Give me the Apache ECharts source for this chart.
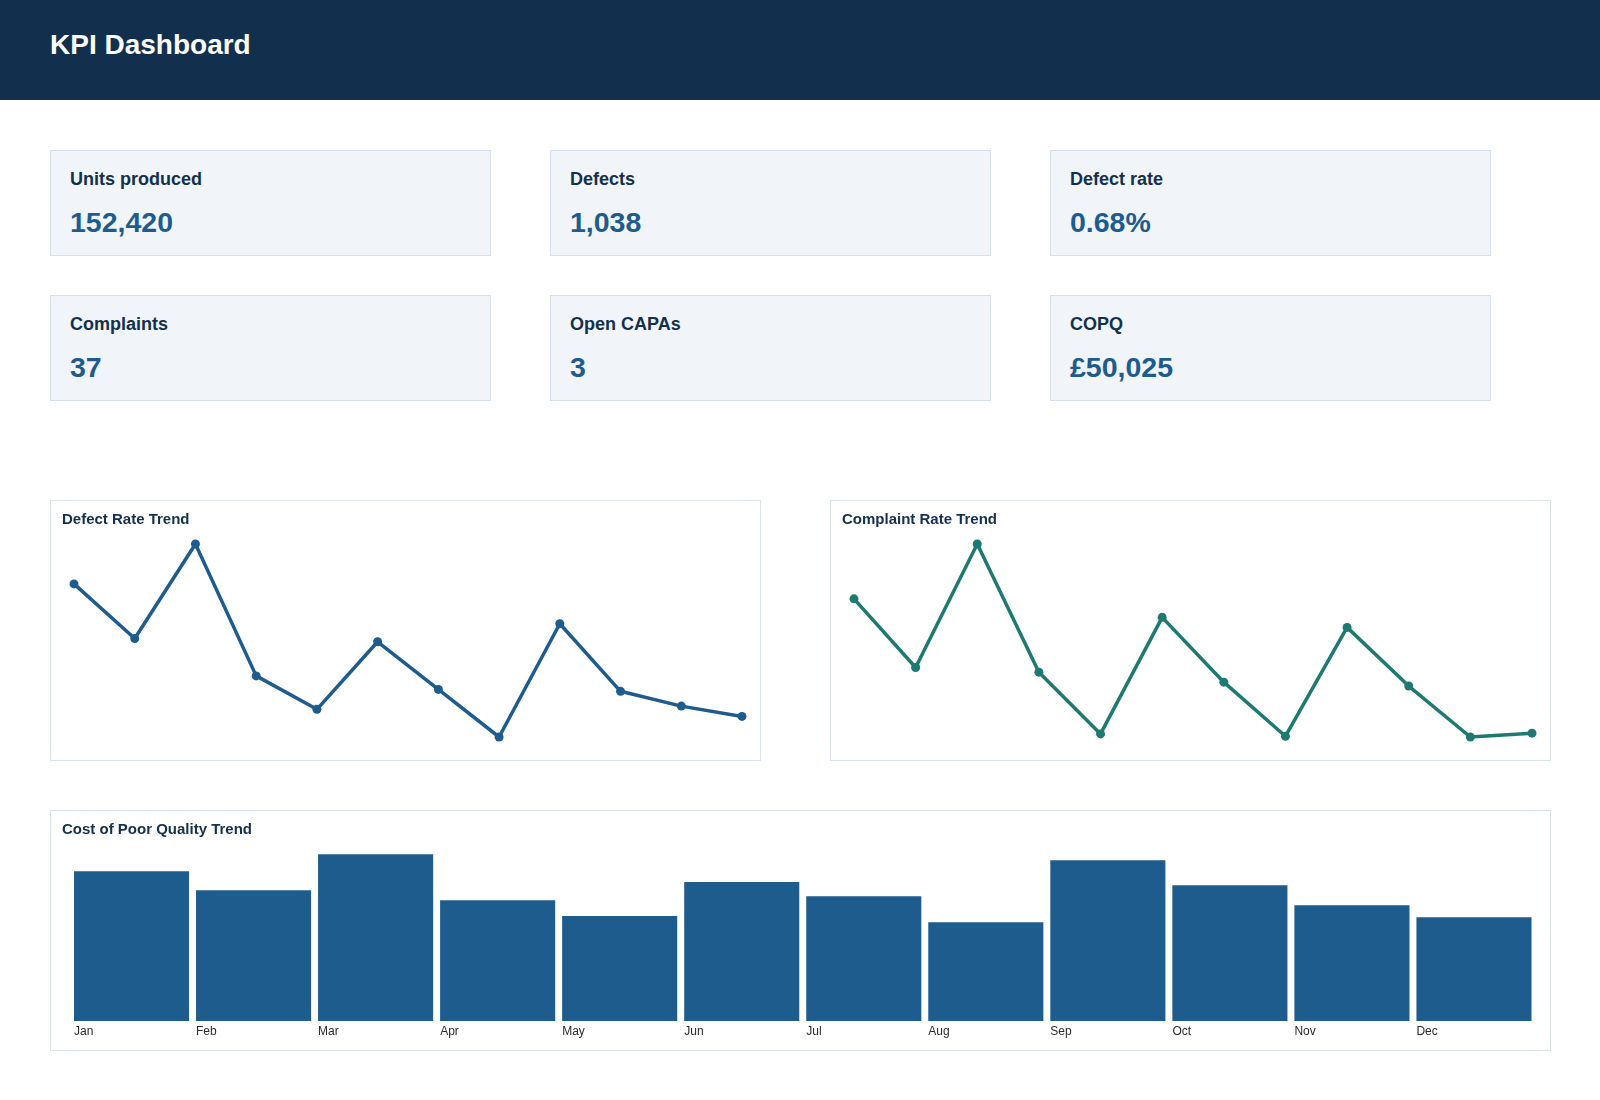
<!DOCTYPE html>
<html>
<head>
<meta charset="utf-8">
<title>KPI Dashboard</title>
<script src="https://cdn.jsdelivr.net/npm/echarts@6/dist/echarts.min.js"></script>
<style>
  html, body { margin: 0; padding: 0; background: #ffffff; }
  body { width: 1600px; height: 1100px; position: relative; font-family: "Liberation Sans", Arial, sans-serif; }
  .header { position: absolute; left: 0; top: 0; width: 1600px; height: 100px; background: #12304d; }
  .header h1 { position: absolute; left: 50px; top: 29px; margin: 0; font-size: 28px; line-height: 32px; font-weight: bold; color: #ffffff; }
  .card { position: absolute; box-sizing: border-box; width: 441px; height: 106px; background: #f1f5f9; border: 1px solid #d6e0ea; }
  .card .label { position: absolute; left: 19px; top: 18px; font-size: 18px; line-height: 20px; font-weight: bold; color: #13304d; white-space: nowrap; }
  .card .value { position: absolute; left: 19px; top: 55px; font-size: 28.5px; line-height: 32px; font-weight: bold; color: #1f5c8e; white-space: nowrap; }
  .panel { position: absolute; box-sizing: border-box; border: 1px solid #dbe4ee; background: #ffffff; }
  .panel .chart { width: 100%; height: 100%; }
</style>
</head>
<body>
<div class="header"><h1>KPI Dashboard</h1></div>
<div id="cards"></div>

<div class="panel" style="left:50px; top:500px; width:711px; height:261px;"><div class="chart" id="defectChart"></div></div>
<div class="panel" style="left:830px; top:500px; width:721px; height:261px;"><div class="chart" id="complaintChart"></div></div>
<div class="panel" style="left:50px; top:810px; width:1501px; height:241px;"><div class="chart" id="copqChart"></div></div>

<script>
// kpi tiles
const kpiLabels = ['Units produced', 'Defects', 'Defect rate', 'Complaints', 'Open CAPAs', 'COPQ'];
const kpiValues = ['152,420', '1,038', '0.68%', '37', '3', '£50,025'];

// monthly trends
const months = ['Jan', 'Feb', 'Mar', 'Apr', 'May', 'Jun', 'Jul', 'Aug', 'Sep', 'Oct', 'Nov', 'Dec'];
const defectRate = [0.788, 0.703, 0.850, 0.645, 0.593, 0.698, 0.624, 0.550, 0.726, 0.621, 0.598, 0.582];
const complaintRate = [0.329, 0.240, 0.400, 0.234, 0.154, 0.305, 0.221, 0.151, 0.292, 0.216, 0.150, 0.155];
const copq = [4828, 4215, 5376, 3893, 3386, 4483, 4022, 3183, 5183, 4376, 3731, 3349];

const titleColor = '#13304d';
const blue = '#1f5c8e';
const teal = '#1e7a70';

// build kpi cards, 3 per row
const cardsEl = document.getElementById('cards');
kpiLabels.forEach((label, i) => {
    const col = i % 3;
    const row = Math.floor(i / 3);
    const card = document.createElement('div');
    card.className = 'card';
    card.style.left = (50 + col * 500) + 'px';
    card.style.top = (150 + row * 145) + 'px';
    card.innerHTML = '<div class="label">' + label + '</div><div class="value">' + kpiValues[i] + '</div>';
    cardsEl.appendChild(card);
});

const lineOption = (title, data, color) => {
    return {
        animation: false,
        title: {
            text: title,
            left: 11,
            top: 11,
            padding: 0,
            textStyle: {
                color: titleColor,
                fontSize: 15,
                fontWeight: 'bold',
                fontFamily: '"Liberation Sans", Arial, sans-serif',
            },
        },
        grid: { left: 23, right: 18, top: 43, bottom: 23 },
        xAxis: {
            type: 'category',
            data: months,
            boundaryGap: false,
            show: false,
        },
        yAxis: {
            type: 'value',
            show: false,
            min: (v) => v.min,
            max: (v) => v.max,
            splitLine: { show: false },
        },
        series: [
            {
                type: 'line',
                data,
                symbol: 'circle',
                symbolSize: 9,
                lineStyle: { color, width: 3.5 },
                itemStyle: { color },
            },
        ],
    };
};

const barOption = {
    animation: false,
    title: {
        text: 'Cost of Poor Quality Trend',
        left: 11,
        top: 11,
        padding: 0,
        textStyle: {
            color: titleColor,
            fontSize: 15,
            fontWeight: 'bold',
            fontFamily: '"Liberation Sans", Arial, sans-serif',
        },
    },
    grid: { left: 19.5, right: 15, top: 24, bottom: 29 },
    xAxis: [
        {
            type: 'category',
            data: months,
            show: false,
        },
        {
            // label axis: ticks sit on the category edges so names line up with bar left edges
            type: 'category',
            data: months.concat(['']),
            boundaryGap: false,
            position: 'bottom',
            axisLine: { show: false },
            axisTick: { show: false },
            splitLine: { show: false },
            axisLabel: {
                interval: 0,
                align: 'left',
                margin: 5,
                padding: [0, 0, 0, 3.5],
                color: '#2b2b2b',
                fontSize: 12,
                fontFamily: '"Liberation Sans", Arial, sans-serif',
            },
        },
    ],
    yAxis: {
        type: 'value',
        show: false,
        min: 0,
        max: 6000,
        splitLine: { show: false },
    },
    series: [
        {
            type: 'bar',
            xAxisIndex: 0,
            data: copq,
            barCategoryGap: '5.7%',
            itemStyle: { color: blue },
        },
    ],
};

const defectChart = echarts.init(document.getElementById('defectChart'));
defectChart.setOption(lineOption('Defect Rate Trend', defectRate, blue));

const complaintChart = echarts.init(document.getElementById('complaintChart'));
complaintChart.setOption(lineOption('Complaint Rate Trend', complaintRate, teal));

const copqChart = echarts.init(document.getElementById('copqChart'));
copqChart.setOption(barOption);
</script>
</body>
</html>
